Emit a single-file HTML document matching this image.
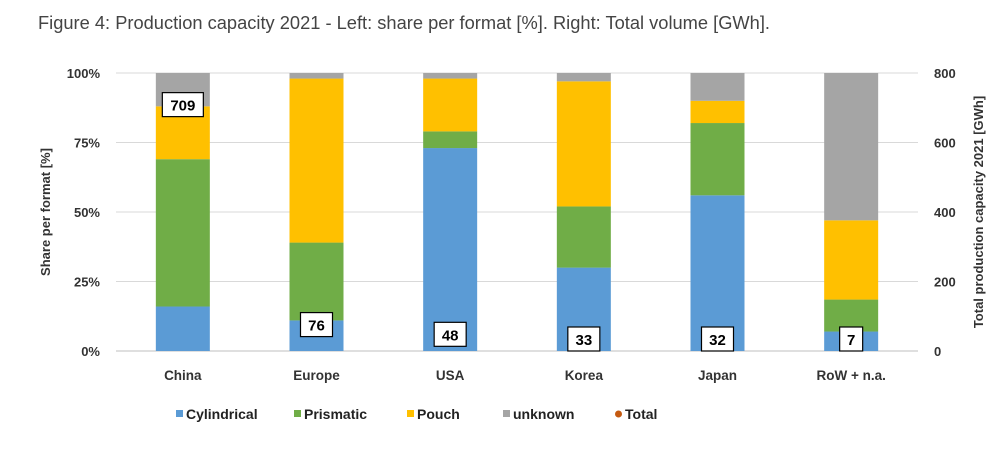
<!DOCTYPE html>
<html><head><meta charset="utf-8"><style>
body{margin:0;background:#fff;width:1000px;height:444px;overflow:hidden;font-family:"Liberation Sans",sans-serif}
</style></head><body>
<svg id="c" width="1000" height="444" xmlns="http://www.w3.org/2000/svg">
<text x="38" y="29" font-size="18" fill="#444" textLength="732" lengthAdjust="spacingAndGlyphs">Figure 4: Production capacity 2021 - Left: share per format [%]. Right: Total volume [GWh].</text>
</svg>
<script>
const categories=["China","Europe","USA","Korea","Japan","RoW + n.a."];
const cylindrical=[16,11,73,30,56,7];
const prismatic=[53,28,6,22,26,11.5];
const pouch=[19,59,19,45,8,28.5];
const unknown=[12,2,2,3,10,53];
const totals=[709,76,48,33,32,7];
const leftTicks=[0,25,50,75,100];
const rightTicks=[0,200,400,600,800];
const seriesNames=["Cylindrical","Prismatic","Pouch","unknown"];
const colors=["#5b9bd5","#70ad47","#ffc000","#a5a5a5"];
const svg=document.getElementById('c');const NS="http://www.w3.org/2000/svg";
const x0=116,x1=918,y0=351,y1=73;
const yL=v=>y0-(v/100)*(y0-y1);
const yR=v=>y0-(v/800)*(y0-y1);
const band=(x1-x0)/categories.length;
const xc=i=>x0+band*(i+0.5);
function mk(t,a,txt){const e=document.createElementNS(NS,t);for(const k in a)e.setAttribute(k,a[k]);if(txt!==undefined)e.textContent=txt;svg.appendChild(e);return e;}
leftTicks.forEach(t=>{
 const g=mk('line',{x1:x0,x2:x1,y1:yL(t),y2:yL(t),stroke:t===0?'#bfbfbf':'#d9d9d9','stroke-width':1});
 
 
 const l=mk('text',{x:100,y:yL(t)+5,'text-anchor':'end','font-size':13,'font-weight':'bold',fill:'#333'},t+'%');
 
 
});
rightTicks.forEach(t=>{
 const l=mk('text',{x:934,y:yR(t)+5,'font-size':13,'font-weight':'bold',fill:'#333'},t);
 
 
});
const data=[cylindrical,prismatic,pouch,unknown];
categories.forEach((c,i)=>{
 let acc=0;
 data.forEach((s,k)=>{
  const r=mk('rect',{x:xc(i)-27,y:yL(acc+s[i]),width:54,height:yL(acc)-yL(acc+s[i]),fill:colors[k]});
  
  
  acc+=s[i];
 });
 const lab=mk('text',{x:xc(i),y:380,'text-anchor':'middle','font-size':13.5,'font-weight':'bold',fill:'#333'},c);
 
 
 const yv=yR(totals[i]);const txt=String(totals[i]);const w=txt.length*9+14;
 const cy=Math.min(yv,339);
 const b=mk('rect',{x:xc(i)-w/2,y:cy-12,width:w,height:24,fill:'#fff',stroke:'#000','stroke-width':1.2});
 
 
 const t=mk('text',{x:xc(i),y:cy+6,'text-anchor':'middle','font-size':15,'font-weight':'bold',fill:'#000'},txt);
 
 
});
const ya=mk('text',{transform:'translate(50,212) rotate(-90)','text-anchor':'middle','font-size':13,'font-weight':'bold',fill:'#333'},'Share per format [%]');


const yb=mk('text',{transform:'translate(983,212) rotate(-90)','text-anchor':'middle','font-size':13,'font-weight':'bold',fill:'#333'},'Total production capacity 2021 [GWh]');


const legX=[176,294,407,503,615];
["Cylindrical","Prismatic","Pouch","unknown","Total"].forEach((n,k)=>{
 let m;
 if(k<4){m=mk('rect',{x:legX[k],y:410,width:7,height:7,fill:colors[k]});}
 else{m=mk('circle',{cx:legX[k]+3.5,cy:414,r:3.5,fill:'#c55a11'});}
 
 
 const t=mk('text',{x:legX[k]+10,y:419,'font-size':14,'font-weight':'bold',fill:'#222'},n);
 
 
});
</script>
</body></html>
